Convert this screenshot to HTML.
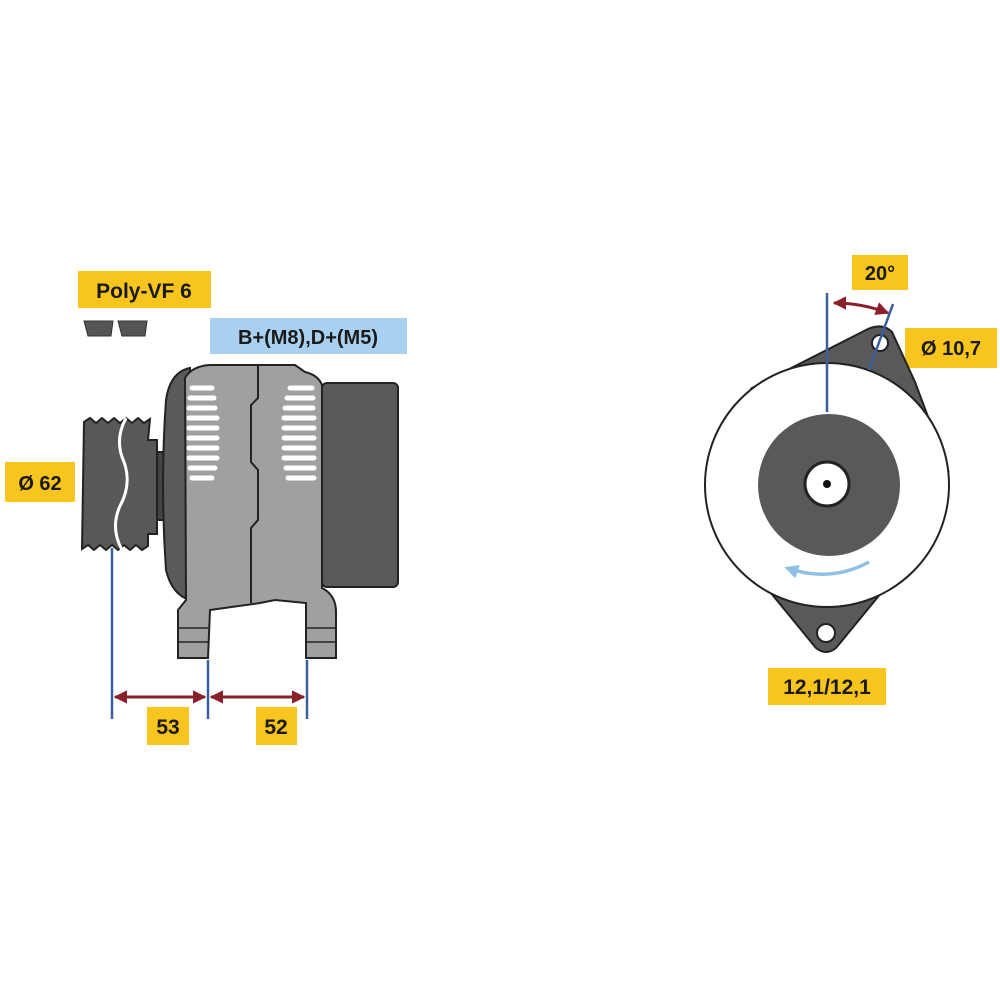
<!DOCTYPE html>
<html><head><meta charset="utf-8"><style>
html,body{margin:0;padding:0;background:#fff;width:1000px;height:1000px;overflow:hidden}
svg{display:block}
text{font-family:"Liberation Sans",sans-serif;font-weight:bold;fill:#1a1a1a}
</style></head><body>
<svg width="1000" height="1000" viewBox="0 0 1000 1000" xmlns="http://www.w3.org/2000/svg">
<defs>
<marker id="ar" viewBox="0 0 10 10" refX="9" refY="5" markerWidth="4.5" markerHeight="4.5" orient="auto-start-reverse"><path d="M0,0 L10,5 L0,10 z" fill="#8b1f2a"/></marker>
<marker id="ab" viewBox="0 0 10 10" refX="8" refY="5" markerWidth="4" markerHeight="4" orient="auto-start-reverse"><path d="M0,0 L10,5 L0,10 z" fill="#8ec0e6"/></marker>
</defs>

<rect x="78" y="271" width="133" height="37" fill="#f7c51e"/>
<text x="144" y="298" font-size="21" text-anchor="middle">Poly-VF 6</text>
<g fill="#555" stroke="#333" stroke-width="1">
<path d="M84,321 L113,321 L111,336 L88,336 z"/><path d="M118,321 L147,321 L145,336 L122,336 z"/>
</g>
<rect x="210" y="318" width="197" height="36" fill="#a9d1ef"/>
<text x="308" y="344" font-size="20" text-anchor="middle" fill="#1a2a44">B+(M8),D+(M5)</text>
<rect x="5" y="462" width="70" height="40" fill="#f7c51e"/>
<text x="40" y="490" font-size="20" text-anchor="middle">Ø 62</text>
<rect x="147" y="707" width="42" height="38" fill="#f7c51e"/>
<text x="168" y="734" font-size="21" text-anchor="middle">53</text>
<rect x="256" y="707" width="41" height="38" fill="#f7c51e"/>
<text x="276" y="734" font-size="21" text-anchor="middle">52</text>
<rect x="852" y="255" width="56" height="35" fill="#f7c51e"/>
<text x="880" y="280" font-size="20" text-anchor="middle">20°</text>
<rect x="905" y="328" width="92" height="40" fill="#f7c51e"/>
<text x="951" y="355" font-size="20" text-anchor="middle">Ø 10,7</text>
<rect x="768" y="668" width="118" height="37" fill="#f7c51e"/>
<text x="827" y="694" font-size="21" text-anchor="middle">12,1/12,1</text>

<g stroke="#222" stroke-width="2">
<path d="M84,422 l6,-4 6,5 6,-5 6,5 6,-5 6,5 6,-5 6,5 6,-5 6,5 6,-4 L148,440 L157,440 L157,534 L148,534 L148,546 l-6,4 -6,-5 -6,5 -6,-5 -6,5 -6,-5 -6,5 -6,-5 -6,5 -6,-5 -6,4 z" fill="#58585a"/>
<rect x="157" y="452" width="7" height="68" fill="#444"/>
<path d="M190,368 Q170,372 166,400 Q160,485 166,570 Q172,595 190,600 z" fill="#5a5a5c"/>
<path d="M185,378 Q192,366 210,365 L295,365 L305,372 Q318,375 322,385 L322,588 Q336,595 336,612 L336,658 L306,658 L306,603 L275,600 L260,603 L210,610 L208,658 L178,658 L178,610 L186,600 z" fill="#a0a0a2"/>
<rect x="322" y="383" width="76" height="204" rx="5" fill="#59595b"/>
<path d="M258,366 L258,398 L251,405 L251,462 L258,470 L258,520 L251,528 L251,603" fill="none"/>
<path d="M178,628 L208,628 M178,642 L208,642 M306,628 L336,628 M306,642 L336,642" stroke-width="1.5"/>
</g>
<g stroke="#fff" stroke-width="5" stroke-linecap="round">
<path d="M192,388 h20 M190,398 h24 M189,408 h26 M189,418 h28 M189,428 h28 M189,438 h28 M189,448 h28 M189,458 h28 M190,468 h25 M192,478 h20"/>
<path d="M290,388 h22 M287,398 h26 M285,408 h28 M284,418 h30 M284,428 h30 M284,438 h30 M284,448 h30 M284,458 h30 M286,468 h28 M288,478 h26"/>
</g>
<path d="M126,418 Q114,440 124,462 Q132,484 120,506 Q110,528 122,550" fill="none" stroke="#fff" stroke-width="3"/>
<g stroke="#3a5f9a" stroke-width="2.5">
<line x1="112" y1="548" x2="112" y2="719"/><line x1="208" y1="660" x2="208" y2="719"/><line x1="307" y1="660" x2="307" y2="719"/>
</g>
<g stroke="#8b1f2a" stroke-width="3">
<line x1="115" y1="697" x2="205" y2="697" marker-start="url(#ar)" marker-end="url(#ar)"/>
<line x1="211" y1="697" x2="304" y2="697" marker-start="url(#ar)" marker-end="url(#ar)"/>
</g>

<g stroke="#222" stroke-width="2">
<path d="M752,388 L866,330 Q882,322 892,332 L915,382 L948,470 L830,420 z" fill="#59595b"/>
<path d="M752,570 L900,570 L836,648 Q826,656 816,648 z" fill="#59595b"/>
<circle cx="827" cy="485" r="122" fill="#fff"/>
<circle cx="829" cy="485" r="71" fill="#59595b" stroke="none"/>
<circle cx="827" cy="484" r="22" fill="#fff" stroke-width="3"/>
<circle cx="880" cy="343" r="8" fill="#fff"/>
<circle cx="826" cy="633" r="9" fill="#fff"/>
</g>
<circle cx="827" cy="484" r="4" fill="#111"/>
<g stroke="#3a5f9a" stroke-width="2.5">
<line x1="827" y1="293" x2="827" y2="412"/><line x1="893" y1="304" x2="869" y2="370"/>
</g>
<path d="M834,303 Q862,303 888,313" fill="none" stroke="#8b1f2a" stroke-width="3" marker-start="url(#ar)" marker-end="url(#ar)"/>
<path d="M869,562 Q830,583 787,568" fill="none" stroke="#8ec0e6" stroke-width="3.5" marker-end="url(#ab)"/>
</svg>
</body></html>
